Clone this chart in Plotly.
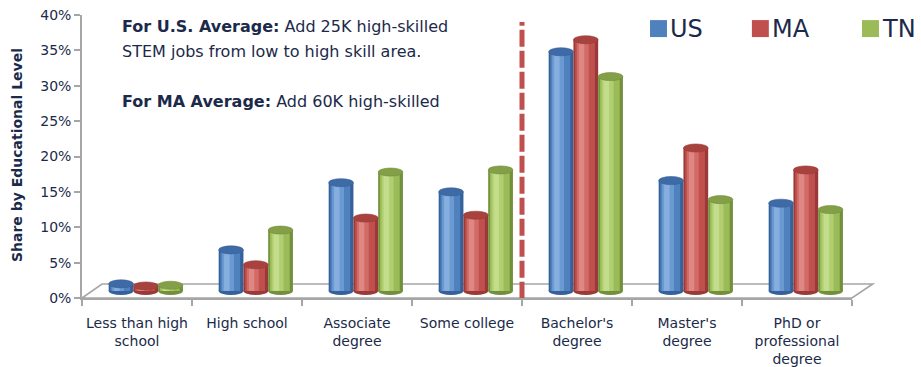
import plotly.graph_objects as go

# Share of STEM jobs by educational level
categories = ["Less than high<br>school", "High school", "Associate<br>degree",
              "Some college", "Bachelor's<br>degree", "Master's<br>degree",
              "PhD or<br>professional<br>degree"]
us_share = [1.0, 5.8, 15.3, 14.0, 33.8, 15.6, 12.4]
ma_share = [0.7, 3.7, 10.3, 10.7, 35.5, 20.2, 17.1]
tn_share = [0.8, 8.6, 16.8, 17.1, 30.3, 12.9, 11.5]
y_ticks = [0, 5, 10, 15, 20, 25, 30, 35, 40]
y_tick_text = [f"{t}%" for t in y_ticks]
divider_x = 3.5        # between "Some college" and "Bachelor's degree"

series = [
    ("US", us_share, {"edge": "#35609a", "base": "#4f81bd", "light": "#6b9ad3",
                      "hi": "#86afe0", "cap": "#3e6ba6"}),
    ("MA", ma_share, {"edge": "#9a3a38", "base": "#c0504d", "light": "#d26a66",
                      "hi": "#df8783", "cap": "#a8423f"}),
    ("TN", tn_share, {"edge": "#728f3c", "base": "#9bbb59", "light": "#b1cf71",
                      "hi": "#c4dd8d", "cap": "#839f47"}),
]

TXT = "#1b2a4a"
FONT = "DejaVu Sans"
x_idx = list(range(len(categories)))
bar_w = 0.225          # width of one cylinder in category units
depth_shift = 0.08     # cylinders sit a little to the right (depth)
cap_r = 0.57           # half-height of the elliptical caps (value units)

fig = go.Figure()
shapes = []

# shading layers: (relative offset, relative width, colour key)
layers = [(0.0, 1.0, "edge"), (0.07, 0.80, "base"), (0.14, 0.48, "light"),
          (0.22, 0.22, "hi")]

for k, (name, vals, col) in enumerate(series):
    off = depth_shift + (k - 1.5) * bar_w
    for rel_off, rel_w, key in layers:
        fig.add_trace(go.Bar(
            x=x_idx, y=vals, yaxis="y2",
            offset=off + rel_off * bar_w, width=rel_w * bar_w,
            marker=dict(color=col[key], line=dict(width=0)),
            name=name, legendgroup=name, showlegend=False,
            hovertemplate=name + ": %{y:.1f}%<extra></extra>" if key == "base" else None,
            hoverinfo=None if key == "base" else "skip",
        ))
    for i, v in zip(x_idx, vals):
        x0 = i + off
        x1 = x0 + bar_w
        # rounded bottom
        shapes.append(dict(type="circle", xref="x", yref="y2", x0=x0, x1=x1,
                           y0=-cap_r, y1=cap_r, fillcolor=col["edge"],
                           line=dict(width=0), layer="below"))
        # elliptical top
        shapes.append(dict(type="circle", xref="x", yref="y2", x0=x0, x1=x1,
                           y0=v - cap_r, y1=v + cap_r, fillcolor=col["cap"],
                           line=dict(width=0.6, color=col["edge"]), layer="above"))

# dividing line between sub-bachelor and bachelor-plus levels (on the main axes)
fig.add_trace(go.Scatter(
    x=[divider_x, divider_x], y=[-0.1, 39.0], mode="lines",
    line=dict(color="#c0504d", width=5, dash="17px,4px"),
    showlegend=False, hoverinfo="skip", cliponaxis=False,
))

# floor of the 3-D plot area
shapes.insert(0, dict(type="path", xref="paper", yref="paper",
                      path="M 0,0 L 0.026,0.0495 L 1.027,0.0495 L 1.0,0 Z",
                      fillcolor="white", line=dict(color="#a6a6a6", width=1.6),
                      layer="below"))

annotations = [
    dict(xref="paper", yref="paper", x=0.049, y=0.958, xanchor="left", yanchor="middle",
         showarrow=False, font=dict(family=FONT, size=16, color=TXT),
         text="<b>For U.S. Average:</b> Add 25K high-skilled"),
    dict(xref="paper", yref="paper", x=0.049, y=0.870, xanchor="left", yanchor="middle",
         showarrow=False, font=dict(family=FONT, size=16, color=TXT),
         text="STEM jobs from low to high skill area."),
    dict(xref="paper", yref="paper", x=0.049, y=0.693, xanchor="left", yanchor="middle",
         showarrow=False, font=dict(family=FONT, size=16, color=TXT),
         text="<b>For MA Average:</b> Add 60K high-skilled"),
    dict(xref="paper", yref="paper", x=-0.0844, y=0.505, xanchor="center", yanchor="middle",
         textangle=-90, showarrow=False, font=dict(family=FONT, size=14, color=TXT),
         text="<b>Share by Educational Level</b>"),
]

# legend: coloured squares with series names
legend_pos = [0.7377, 0.870, 1.013]
for (name, _, col), lx in zip(series, legend_pos):
    shapes.append(dict(type="rect", xref="paper", yref="paper", x0=lx, x1=lx + 0.022,
                       y0=0.922, y1=0.982, fillcolor=col["base"], line=dict(width=0)))
    annotations.append(dict(xref="paper", yref="paper", x=lx + 0.0235, y=0.952,
                            xanchor="left", yanchor="middle", showarrow=False,
                            font=dict(family=FONT, size=24, color=TXT), text=name))

fig.update_layout(
    width=921, height=367,
    margin=dict(l=82, r=69, t=15, b=69),
    paper_bgcolor="white", plot_bgcolor="rgba(0,0,0,0)",
    barmode="overlay",
    font=dict(family=FONT, color=TXT),
    shapes=shapes, annotations=annotations,
    showlegend=False,
    xaxis=dict(range=[-0.5, 6.5], tickvals=x_idx, ticktext=categories,
               tickangle=0, automargin=False, ticklabelstandoff=11,
               showgrid=False, zeroline=False, showline=True,
               linecolor="#a6a6a6", linewidth=1.6, ticks="",
               tickfont=dict(family=FONT, size=14, color=TXT),
               minor=dict(tickmode="array", tickvals=[i - 0.5 for i in range(8)],
                          ticks="outside", ticklen=6, tickcolor="#a6a6a6",
                          tickwidth=1.6, showgrid=False),
               fixedrange=True),
    yaxis=dict(range=[0, 40], tickvals=y_ticks, ticktext=y_tick_text, automargin=False,
               showgrid=False, zeroline=False, showline=True,
               linecolor="#a6a6a6", linewidth=1.6, ticks="outside", ticklen=6,
               tickcolor="#a6a6a6", tickwidth=1.6,
               tickfont=dict(family=FONT, size=14, color=TXT), fixedrange=True),
    yaxis2=dict(range=[-1, 39], overlaying="y", visible=False, fixedrange=True),
)

fig.write_html("out.html")
